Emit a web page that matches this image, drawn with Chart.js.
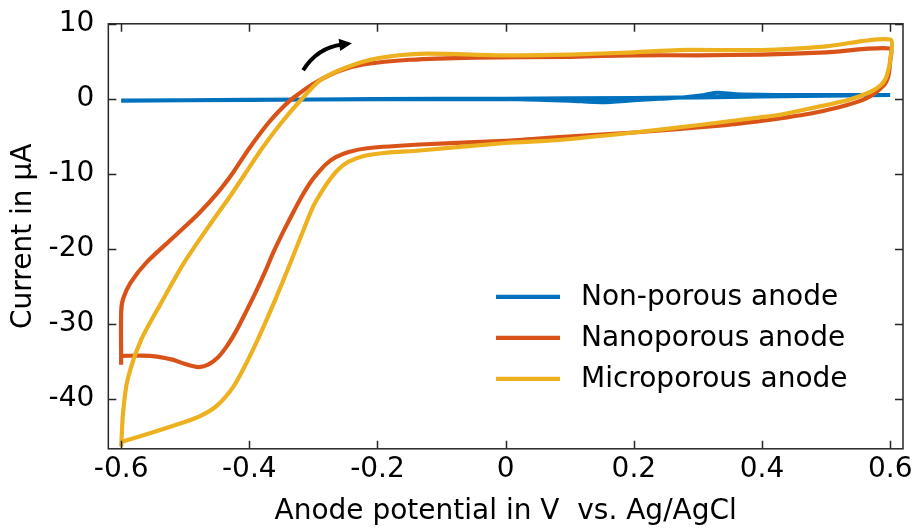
<!DOCTYPE html>
<html>
<head>
<meta charset="utf-8">
<script src="https://cdn.jsdelivr.net/npm/chart.js@4.4.1/dist/chart.umd.min.js"></script>
<style>
  html, body { margin: 0; padding: 0; background: #fff; }
  #wrap { width: 919px; height: 531px; }
</style>
</head>
<body>
<div id="wrap"><canvas id="cv-chart"></canvas></div>
<script>
// series labels
const seriesNames = ['Non-porous anode', 'Nanoporous anode', 'Microporous anode'];

// Non-porous anode: potential (V) and current (µA), forward then reverse scan
const nonPorousX = [-0.6, -0.4, -0.2, 0, 0.2, 0.4, 0.6, 0.6, 0.45, 0.36, 0.33, 0.31, 0.28, 0.24, 0.2, 0.15, 0.1, 0.02, -0.1];
const nonPorousY = [-0.25, -0.15, -0.05, 0, 0.1, 0.3, 0.5, 0.5, 0.5, 0.6, 0.8, 0.5, 0.2, 0.0, -0.2, -0.45, -0.25, -0.05, -0.05];

// Nanoporous anode
const nanoX = [-0.6, -0.6, -0.597, -0.585, -0.56, -0.52, -0.48, -0.45, -0.425, -0.4, -0.37, -0.345, -0.33, -0.3, -0.26, -0.22, -0.15, -0.05, 0.1, 0.2, 0.3, 0.4, 0.5, 0.6,
               0.6, 0.597, 0.59, 0.564, 0.53, 0.48, 0.43, 0.395, 0.333, 0.2, 0.084, 0, -0.134, -0.216, -0.245, -0.265, -0.28, -0.293, -0.305, -0.318, -0.33, -0.345, -0.362, -0.375, -0.39, -0.405, -0.42, -0.435, -0.45, -0.465, -0.48, -0.5, -0.52, -0.555, -0.6];
const nanoY = [-35.5, -28.5, -26.7, -24.5, -21.8, -18.6, -15.4, -12.6, -9.8, -6.6, -3.2, -0.9, 0.2, 2.0, 3.7, 4.6, 5.2, 5.5, 5.6, 5.8, 5.8, 5.9, 6.2, 6.7,
               5.0, 3.0, 1.8, 0.1, -0.9, -1.9, -2.6, -3.0, -3.6, -4.5, -5.1, -5.6, -6.1, -6.6, -7.1, -7.8, -8.7, -9.9, -11.2, -13.0, -14.9, -17.4, -20.4, -23.0, -25.8, -28.4, -30.9, -33.0, -34.6, -35.5, -35.8, -35.4, -34.8, -34.3, -34.3];

// Microporous anode
const microX = [-0.6, -0.597, -0.59, -0.569, -0.538, -0.502, -0.46, -0.43, -0.405, -0.38, -0.351, -0.32, -0.289, -0.248, -0.2, -0.134, 0, 0.1, 0.2, 0.27, 0.4, 0.5, 0.6,
                0.6, 0.597, 0.593, 0.585, 0.569, 0.533, 0.48, 0.43, 0.395, 0.302, 0.2, 0.084, 0, -0.134, -0.186, -0.22, -0.245, -0.262, -0.278, -0.29, -0.3, -0.315, -0.336, -0.359, -0.383, -0.403, -0.424, -0.45, -0.476, -0.507, -0.554, -0.6];
const microY = [-46.4, -41.9, -37.5, -32.2, -27.3, -21.9, -16.6, -13.0, -9.8, -6.6, -3.3, -0.2, 2.5, 4.2, 5.4, 6.0, 5.8, 5.9, 6.2, 6.5, 6.5, 7.0, 7.9,
                5.1, 3.8, 2.7, 1.8, 0.9, -0.2, -1.2, -2.1, -2.5, -3.5, -4.5, -5.5, -5.9, -6.9, -7.2, -7.6, -8.4, -9.5, -11.2, -12.8, -14.3, -17.4, -21.9, -26.7, -31.4, -35.0, -38.3, -40.9, -42.3, -43.3, -44.6, -45.8];

// axis ticks
const xTicks = [-0.6, -0.4, -0.2, 0, 0.2, 0.4, 0.6];
const yTicks = [-40, -30, -20, -10, 0, 10];

// scan direction arrow (data units): start, control, tip
const arrowFrom = [-0.316, 3.8];
const arrowCtrl = [-0.294, 6.8];
const arrowTo = [-0.240, 7.4];

const colors = ['#0072BD', '#D95319', '#EDB120'];
const ink = '#262626';
const fontFamily = "'DejaVu Sans', sans-serif";

const toPoints = (xs, ys) => xs.map((x, i) => ({ x: x, y: ys[i] }));

// box frame with inward ticks on all four sides
const framePlugin = {
    id: 'frame',
    afterDatasetsDraw(chart) {
        const { ctx, chartArea: a, scales } = chart;
        const len = 8;
        ctx.save();
        ctx.strokeStyle = ink;
        ctx.lineWidth = 1.5;
        ctx.strokeRect(a.left, a.top, a.right - a.left, a.bottom - a.top);
        ctx.beginPath();
        xTicks.forEach(v => {
            const px = Math.round(scales.x.getPixelForValue(v)) + 0.5;
            ctx.moveTo(px, a.bottom); ctx.lineTo(px, a.bottom - len);
            ctx.moveTo(px, a.top); ctx.lineTo(px, a.top + len);
        });
        yTicks.forEach(v => {
            const py = Math.round(scales.y.getPixelForValue(v)) + 0.5;
            ctx.moveTo(a.left, py); ctx.lineTo(a.left + len, py);
            ctx.moveTo(a.right, py); ctx.lineTo(a.right - len, py);
        });
        ctx.stroke();
        ctx.restore();
    }
};

// curved arrow for the scan direction
const arrowPlugin = {
    id: 'scanArrow',
    afterDatasetsDraw(chart) {
        const { ctx, scales } = chart;
        const p = (d) => [scales.x.getPixelForValue(d[0]), scales.y.getPixelForValue(d[1])];
        const [x0, y0] = p(arrowFrom);
        const [cx, cy] = p(arrowCtrl);
        const [x1, y1] = p(arrowTo);
        const ang = Math.atan2(y1 - cy, x1 - cx);
        const head = 14;
        // stop the shaft a bit before the tip
        const sx = x1 - Math.cos(ang) * head * 0.7;
        const sy = y1 - Math.sin(ang) * head * 0.7;
        ctx.save();
        ctx.strokeStyle = '#000';
        ctx.fillStyle = '#000';
        ctx.lineWidth = 4;
        ctx.beginPath();
        ctx.moveTo(x0, y0);
        ctx.quadraticCurveTo(cx, cy, sx, sy);
        ctx.stroke();
        ctx.beginPath();
        ctx.moveTo(x1, y1);
        ctx.lineTo(x1 - head * Math.cos(ang - 0.45), y1 - head * Math.sin(ang - 0.45));
        ctx.lineTo(x1 - head * Math.cos(ang + 0.45), y1 - head * Math.sin(ang + 0.45));
        ctx.closePath();
        ctx.fill();
        ctx.restore();
    }
};

// legend inside the axes, lower right
const insideLegend = {
    id: 'insideLegend',
    afterDraw(chart) {
        const { ctx, chartArea: a } = chart;
        ctx.save();
        ctx.font = '28px ' + fontFamily;
        ctx.textBaseline = 'middle';
        ctx.textAlign = 'left';
        chart.data.datasets.forEach((ds, i) => {
            const y = a.top + 273 + i * 41;
            ctx.strokeStyle = ds.borderColor;
            ctx.lineWidth = 4.2;
            ctx.beginPath();
            ctx.moveTo(a.right - 407, y);
            ctx.lineTo(a.right - 343, y);
            ctx.stroke();
            ctx.fillStyle = '#000';
            ctx.fillText(ds.label, a.right - 322, y + 1);
        });
        ctx.restore();
    }
};

const fmt = (v) => {
    const r = Math.round(v * 10) / 10;
    return r === 0 ? '0' : String(r);
};

const data = {
    datasets: [
        { label: seriesNames[0], data: toPoints(nonPorousX, nonPorousY), borderColor: colors[0], order: 3 },
        { label: seriesNames[1], data: toPoints(nanoX, nanoY), borderColor: colors[1], order: 2 },
        { label: seriesNames[2], data: toPoints(microX, microY), borderColor: colors[2], order: 1 }
    ]
};

const config = {
    type: 'line',
    data: data,
    options: {
        responsive: true,
        maintainAspectRatio: false,
        animation: false,
        layout: { padding: { top: 0, right: 16, left: 0, bottom: 0 } },
        elements: {
            line: { borderWidth: 4.2, tension: 0.25, fill: false },
            point: { radius: 0, hoverRadius: 0 }
        },
        plugins: {
            legend: { display: false },
            tooltip: { enabled: false }
        },
        scales: {
            x: {
                type: 'linear',
                min: -0.62,
                max: 0.62,
                afterBuildTicks: (scale) => { scale.ticks = xTicks.map(v => ({ value: v })); },
                grid: { display: false, drawTicks: false },
                border: { display: false },
                ticks: {
                    padding: 4, maxRotation: 0, autoSkip: false, color: '#000',
                    font: { family: fontFamily, size: 28 },
                    callback: fmt
                },
                title: {
                    display: true, text: 'Anode potential in V  vs. Ag/AgCl', color: '#000',
                    font: { family: fontFamily, size: 28 },
                    padding: { top: 5, bottom: 2 }
                }
            },
            y: {
                min: -46.7,
                max: 10,
                afterBuildTicks: (scale) => { scale.ticks = yTicks.map(v => ({ value: v })); },
                grid: { display: false, drawTicks: false },
                border: { display: false },
                ticks: {
                    padding: 14, autoSkip: false, color: '#000',
                    font: { family: fontFamily, size: 28, lineHeight: 0.7 },
                    callback: fmt
                },
                title: {
                    display: true, text: 'Current in µA', color: '#000',
                    font: { family: fontFamily, size: 28 },
                    padding: { top: 7, bottom: -6 }
                }
            }
        }
    },
    plugins: [framePlugin, arrowPlugin, insideLegend]
};

const ctx = document.getElementById('cv-chart').getContext('2d');
const cvChart = new Chart(ctx, config);
</script>
</body>
</html>
